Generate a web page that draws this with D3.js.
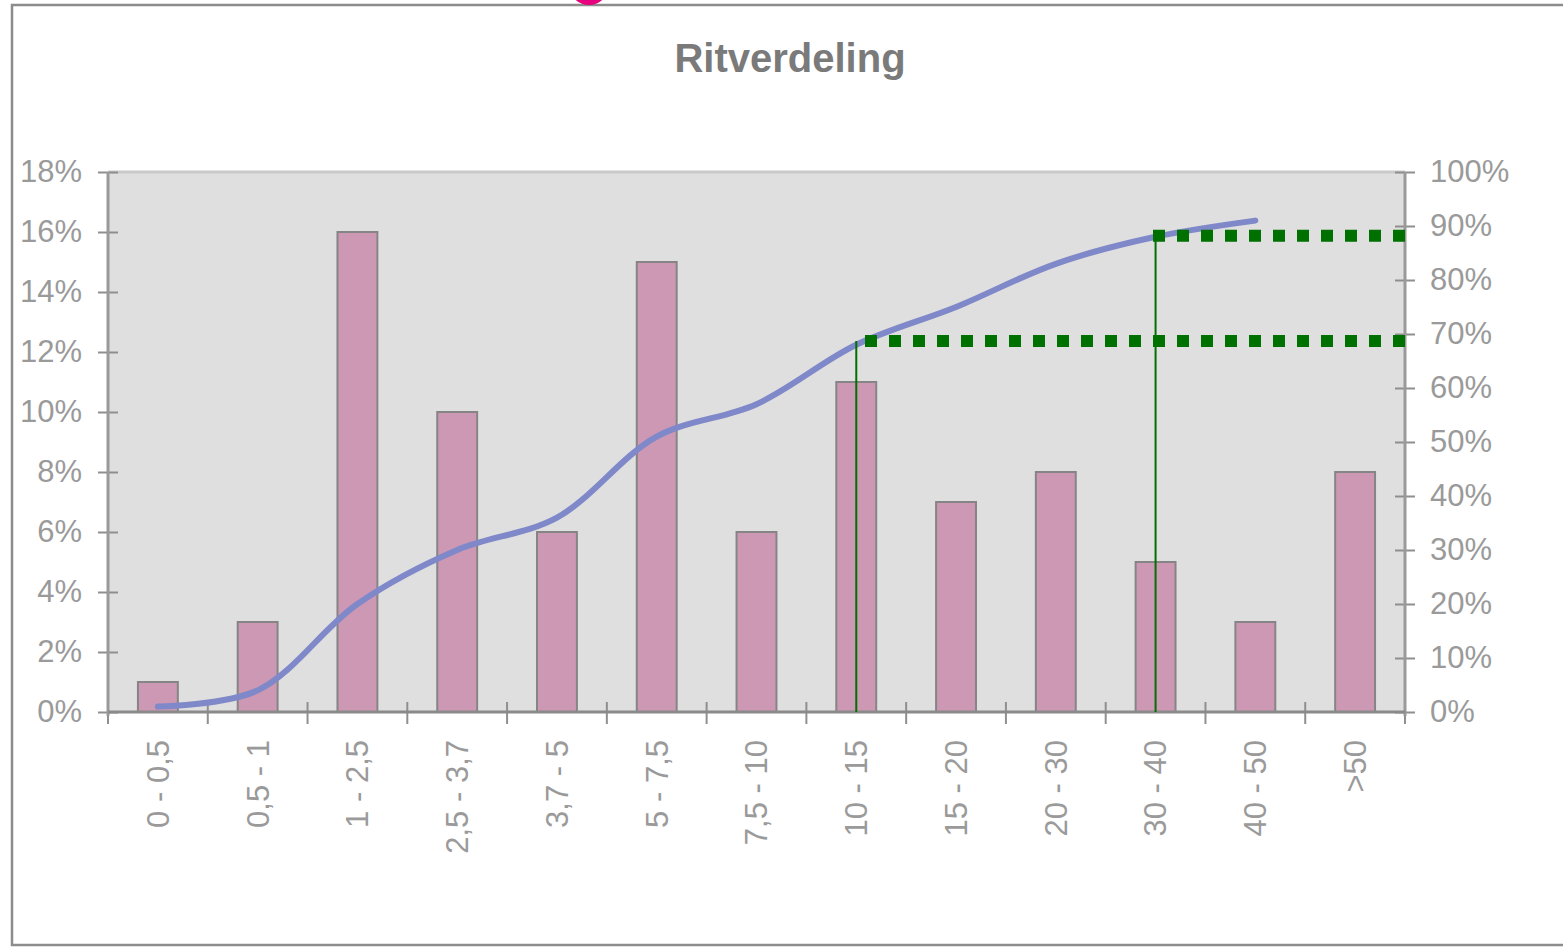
<!DOCTYPE html>
<html>
<head>
<meta charset="utf-8">
<script src="https://cdn.jsdelivr.net/npm/d3@7"></script>
<style>
  html, body { margin: 0; padding: 0; background: #ffffff; overflow: hidden; }
  svg { display: block; font-family: "Liberation Sans", Arial, sans-serif; }
</style>
</head>
<body>
<svg id="chart" width="1563" height="948"></svg>
<script>
// Trip distance classes (km) and the share of trips in each class (%)
const categories = ["0 - 0,5", "0,5 - 1", "1 - 2,5", "2,5 - 3,7", "3,7 - 5", "5 - 7,5",
                    "7,5 - 10", "10 - 15", "15 - 20", "20 - 30", "30 - 40", "40 - 50", ">50"];
const shares = [1, 3, 16, 10, 6, 15, 6, 11, 7, 8, 5, 3, 8];
// Cumulative share (%) for the classes up to 40 - 50
const cumulative = [1, 4, 20, 30, 36, 51, 57, 68, 75, 83, 88, 91];
// Reference markers on the cumulative curve
const markerClasses = ["10 - 15", "30 - 40"];
const markerValues = [68.7, 88.2];
// Axis ticks
const leftTicks = [0, 2, 4, 6, 8, 10, 12, 14, 16, 18];
const rightTicks = [0, 10, 20, 30, 40, 50, 60, 70, 80, 90, 100];

const svg = d3.select("#chart");
const plot = { left: 108, right: 1405, top: 172, bottom: 712 };

const x = d3.scaleBand().domain(categories).range([plot.left, plot.right]).paddingInner(0).paddingOuter(0);
const yL = d3.scaleLinear().domain([0, 18]).range([plot.bottom, plot.top]);
const yR = d3.scaleLinear().domain([0, 100]).range([plot.bottom, plot.top]);
const cx = c => x(c) + x.bandwidth() / 2;

// Outer chart frame
svg.append("rect")
  .attr("x", 12).attr("y", 5).attr("width", 1600).attr("height", 940)
  .attr("fill", "none").attr("stroke", "#8c8c8c").attr("stroke-width", 2.5);

// Small magenta marker just above the frame
svg.append("circle").attr("cx", 589).attr("cy", -15).attr("r", 20).attr("fill", "#e6007e");

// Title
svg.append("text")
  .attr("x", 790).attr("y", 72)
  .attr("text-anchor", "middle")
  .attr("font-size", 40).attr("font-weight", "bold")
  .attr("fill", "#7a7a7a")
  .text("Ritverdeling");

// Plot background
svg.append("rect")
  .attr("x", plot.left).attr("y", plot.top)
  .attr("width", plot.right - plot.left).attr("height", plot.bottom - plot.top)
  .attr("fill", "#dfdfdf");
svg.append("line")
  .attr("x1", plot.left).attr("x2", plot.right).attr("y1", plot.top).attr("y2", plot.top)
  .attr("stroke", "#c9c9c9").attr("stroke-width", 3);

// Bars
const barW = x.bandwidth() * 0.4;
svg.append("g").selectAll("rect")
  .data(categories.map((c, i) => ({ c, v: shares[i] })))
  .join("rect")
  .attr("x", d => cx(d.c) - barW / 2)
  .attr("y", d => yL(d.v))
  .attr("width", barW)
  .attr("height", d => yL(0) - yL(d.v))
  .attr("fill", "#cc98b3")
  .attr("stroke", "#858585")
  .attr("stroke-width", 2);

// Axes
const tickColor = "#8f8f8f";
const labelColor = "#9a9a9a";
function styleAxis(g) {
  g.select(".domain").remove();
  g.selectAll(".tick line").attr("stroke", tickColor).attr("stroke-width", 2)
    .attr("x1", -10).attr("x2", 10);
  g.selectAll(".tick text").attr("fill", labelColor).attr("font-size", 31);
}

const gL = svg.append("g").attr("transform", `translate(${plot.left},0)`)
  .call(d3.axisLeft(yL).tickValues(leftTicks).tickFormat(d => d + "%").tickSizeInner(10).tickSizeOuter(0).tickPadding(16));
styleAxis(gL);

const gR = svg.append("g").attr("transform", `translate(${plot.right},0)`)
  .call(d3.axisRight(yR).tickValues(rightTicks).tickFormat(d => d + "%").tickSizeInner(10).tickSizeOuter(0).tickPadding(15));
styleAxis(gR);

// Category boundary ticks on the x axis
const boundaries = d3.range(categories.length + 1).map(i => plot.left + i * x.bandwidth());
svg.append("g").selectAll("line")
  .data(boundaries)
  .join("line")
  .attr("x1", d => d).attr("x2", d => d)
  .attr("y1", plot.bottom - 10).attr("y2", plot.bottom + 12)
  .attr("stroke", tickColor).attr("stroke-width", 2);

// Category labels, rotated
svg.append("g").selectAll("text")
  .data(categories)
  .join("text")
  .attr("transform", d => `translate(${cx(d)},740) rotate(-90)`)
  .attr("text-anchor", "end")
  .attr("dy", "0.35em")
  .attr("font-size", 31)
  .attr("fill", labelColor)
  .text(d => d);

// Axis lines
svg.append("line").attr("x1", plot.left).attr("x2", plot.left).attr("y1", plot.top).attr("y2", plot.bottom + 4)
  .attr("stroke", "#9a9a9a").attr("stroke-width", 3);
svg.append("line").attr("x1", plot.right).attr("x2", plot.right).attr("y1", plot.top).attr("y2", plot.bottom + 4)
  .attr("stroke", "#9a9a9a").attr("stroke-width", 3);
svg.append("line").attr("x1", plot.left).attr("x2", plot.right).attr("y1", plot.bottom).attr("y2", plot.bottom)
  .attr("stroke", "#8a8a8a").attr("stroke-width", 3);

// Cumulative curve (right axis)
const line = d3.line()
  .x((d, i) => cx(categories[i]))
  .y(d => yR(d))
  .curve(d3.curveCatmullRom.alpha(0.5));
svg.append("path")
  .datum(cumulative)
  .attr("d", line)
  .attr("fill", "none")
  .attr("stroke", "#7f88c9")
  .attr("stroke-width", 6)
  .attr("stroke-linecap", "round");

// Markers: vertical drop line and dotted line to the right axis
const green = "#007000";
markerClasses.forEach((c, i) => {
  const mx = cx(c);
  const my = yR(markerValues[i]);
  svg.append("line")
    .attr("x1", mx).attr("x2", mx).attr("y1", plot.bottom).attr("y2", my)
    .attr("stroke", green).attr("stroke-width", 2);
  svg.append("line")
    .attr("x1", plot.right).attr("x2", mx - 3).attr("y1", my).attr("y2", my)
    .attr("stroke", green).attr("stroke-width", 12)
    .attr("stroke-dasharray", "12,12");
});
</script>
</body>
</html>
